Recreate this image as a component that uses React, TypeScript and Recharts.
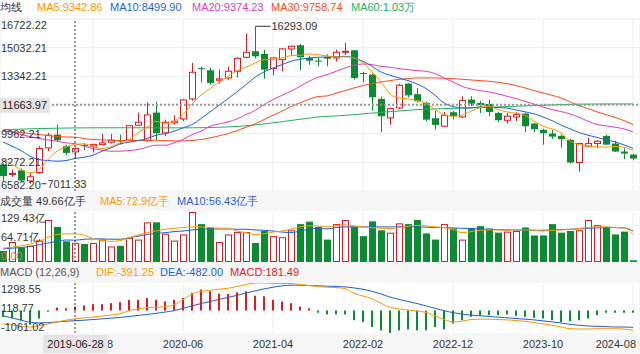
import { ComposedChart, Bar, Line, XAxis, YAxis, CartesianGrid, ReferenceLine } from 'recharts';

const MONTHS = [
  '2018-10', '2018-11', '2018-12',
  '2019-01', '2019-02', '2019-03', '2019-04', '2019-05', '2019-06', '2019-07', '2019-08', '2019-09', '2019-10', '2019-11', '2019-12',
  '2020-01', '2020-02', '2020-03', '2020-04', '2020-05', '2020-06', '2020-07', '2020-08', '2020-09', '2020-10', '2020-11', '2020-12',
  '2021-01', '2021-02', '2021-03', '2021-04', '2021-05', '2021-06', '2021-07', '2021-08', '2021-09', '2021-10', '2021-11', '2021-12',
  '2022-01', '2022-02', '2022-03', '2022-04', '2022-05', '2022-06', '2022-07', '2022-08', '2022-09', '2022-10', '2022-11', '2022-12',
  '2023-01', '2023-02', '2023-03', '2023-04', '2023-05', '2023-06', '2023-07', '2023-08', '2023-09', '2023-10', '2023-11', '2023-12',
  '2024-01', '2024-02', '2024-03', '2024-04', '2024-05', '2024-06', '2024-07', '2024-08',
];

const OPEN = [
  8140, 7580, 7800, 7180, 7670, 9124, 9907, 9224, 8889, 9300,
  9224, 9317, 9459, 9560, 9577, 10458, 9577, 11205, 10007, 10597,
  10832, 12010, 13820, 13700, 13110, 13246, 13642, 14466, 14819, 14660,
  13795, 14325, 14955, 15173, 14425, 14270, 14485, 14425, 14760, 14878,
  13541, 13441, 12010, 10890, 11480, 12912, 12288, 11774, 10875, 10402,
  11226, 10949, 11969, 11774, 11715, 11185, 10755, 10949, 11144, 10556,
  10185, 9967, 9832, 9596, 8259, 9224, 9377, 9832, 9379, 8908,
  8729,
];
const CLOSE = [
  7457, 7620, 7200, 7420, 9084, 9872, 9577, 8829, 9083, 9260,
  9317, 9418, 9577, 9500, 10436, 10635, 11069, 9990, 10635, 10697,
  11951, 13582, 13760, 12952, 13187, 13642, 14407, 14760, 14524, 13736,
  14425, 14955, 15114, 14466, 14266, 14215, 14385, 14760, 14819, 13246,
  13481, 12109, 10991, 11439, 12817, 12223, 11876, 10791, 10480, 11049,
  10991, 11910, 11733, 11638, 11244, 10755, 10991, 11085, 10402, 10226,
  9990, 9791, 9636, 8259, 9379, 9377, 9518, 9317, 8908, 8790,
  8494,
];
const HIGH = [
  8200, 7846, 7900, 7651, 9224, 10008, 10496, 9300, 9150, 9420,
  9380, 9948, 9932, 9900, 10480, 11204, 11816, 11835, 10793, 11040,
  12010, 14130, 13900, 13840, 13736, 13900, 14470, 15857, 16293.09, 14913,
  14480, 15000, 15160, 15250, 14550, 14425, 14640, 14913, 15308, 14900,
  13600, 13500, 12150, 11500, 12900, 12950, 12650, 11850, 11300, 11250,
  11300, 12169, 12169, 11900, 11969, 11250, 11185, 11230, 11200, 10600,
  10250, 10180, 9900, 9650, 9420, 9712, 9600, 9900, 9550, 9100,
  8780,
];
const LOW = [
  7162, 7398, 7100, 7011.33, 7600, 8930, 9520, 8694, 8550, 8990,
  8849, 9280, 9380, 9320, 9500, 10420, 9479, 9580, 9811, 10500,
  10700, 11900, 12994, 12853, 12912, 13150, 13300, 14400, 14400, 13206,
  13405, 13642, 14619, 13700, 14030, 13934, 13935, 14220, 14600, 13146,
  12994, 11321, 10048, 10496, 11400, 12100, 11800, 10700, 10201, 10350,
  10800, 10880, 11600, 11185, 10991, 10650, 10560, 10700, 10048, 10050,
  9317, 9650, 9143, 8200, 7729, 9150, 9100, 9300, 8880, 8459,
  8400,
];

const MA5 = [
  8437, 8142, 7848, 7652, 7848, 8437, 8928, 9163, 9342.86, 9360,
  9222, 9085, 9203, 9419, 9615, 10008, 10341, 10695, 10538, 10695,
  11087, 11716, 12226, 12619, 13011, 13345, 13679, 13875, 14131, 14327,
  14347, 14425, 14562, 14582, 14661, 14621, 14543, 14484, 14484, 14425,
  14130, 13600, 13011, 12305, 12069, 12010, 11912, 11755, 11382, 11087,
  10989, 11048, 11284, 11500, 11578, 11382, 11245, 11166, 11048, 10695,
  10400, 10243, 10008, 9517, 9320, 9222, 9183, 9163, 9203, 9163,
  8987,
];
const MA10 = [
  9478, 9222, 8967, 8633, 8437, 8378, 8339, 8378, 8499.9, 8574,
  8692, 8928, 9124, 9360, 9458, 9556, 9674, 9870, 9968, 10106,
  10302, 10498, 10852, 11244, 11637, 12030, 12422, 12854, 13286, 13600,
  13836, 14032, 14229, 14347, 14425, 14464, 14484, 14504, 14523, 14425,
  14229, 13934, 13600, 13404, 13247, 13090, 12894, 12619, 12226, 11775,
  11559, 11480, 11480, 11540, 11520, 11500, 11470, 11360, 11250, 11130,
  10950, 10730, 10470, 10250, 10030, 9870, 9740, 9600, 9480, 9300,
  9100,
];
const MA20 = [
  10145, 10067, 9909, 9792, 9674, 9595, 9517, 9419, 9374.23, 9222,
  9085, 8987, 8928, 8928, 8967, 9026, 9163, 9281, 9281, 9419,
  9615, 9909, 10106, 10400, 10538, 10655, 10832, 11087, 11323, 11677,
  11971, 12226, 12462, 12756, 13051, 13286, 13443, 13640, 13836, 13993,
  14072, 14032, 13934, 13875, 13797, 13738, 13679, 13640, 13502, 13247,
  13011, 12756, 12599, 12501, 12422, 12305, 12167, 12030, 11873, 11716,
  11539, 11382, 11264, 11127, 10930, 10695, 10498, 10420, 10341, 10243,
  10067,
];
const MA30 = [
  10106, 10067, 10027, 9968, 9909, 9850, 9792, 9765, 9758.74, 9674,
  9615, 9596, 9576, 9560, 9556, 9556, 9556, 9576, 9556, 9536,
  9536, 9556, 9615, 9713, 9831, 9968, 10145, 10341, 10538, 10793,
  11048, 11284, 11558, 11775, 11991, 12147, 12187, 12344, 12501, 12658,
  12796, 12913, 13011, 13090, 13168, 13208, 13247, 13247, 13247, 13227,
  13208, 13168, 13129, 13090, 13051, 12992, 12913, 12796, 12658, 12501,
  12364, 12226, 12069, 11834, 11617, 11441, 11245, 11087, 10930, 10734,
  10498,
];
const MA60 = [
  10200, 10215, 10230, 10245, 10260, 10272, 10284, 10294, 10300, 10305,
  10308, 10310, 10310, 10310, 10310, 10310, 10308, 10306, 10305, 10305,
  10306, 10310, 10315, 10325, 10340, 10360, 10390, 10430, 10480, 10540,
  10600, 10670, 10740, 10810, 10880, 10950, 10980, 11010, 11040, 11085,
  11130, 11175, 11220, 11260, 11300, 11340, 11380, 11400, 11420, 11440,
  11455, 11470, 11485, 11500, 11520, 11540, 11560, 11580, 11600, 11620,
  11640, 11655, 11676, 11690, 11700, 11708, 11712, 11715, 11716, 11716,
  11716,
];

// 成交量 (亿手)
const VOL = [
  28.6, 51.8, 37.4, 42.0, 55.4, 108.8, 90.9, 53.5, 49.66, 46.5,
  49.2, 58.0, 40.1, 42.0, 62.6, 58.0, 102.7, 102.7, 73.3, 55.4,
  71.4, 129.43, 98.1, 89.3, 51.8, 71.4, 77.5, 77.5, 49.2, 80.2,
  66.9, 64.2, 82.1, 98.1, 104.3, 90.9, 58.0, 98.1, 108.8, 90.9,
  66.9, 105.2, 82.1, 75.9, 100.0, 98.1, 108.8, 74.1, 58.0, 98.1,
  86.6, 58.0, 86.6, 92.8, 86.6, 75.9, 78.6, 80.2, 89.3, 68.7,
  68.7, 98.1, 75.9, 80.2, 82.1, 108.8, 95.5, 90.9, 71.4, 78.6,
  4.5,
];
const VOL_MA5 = [
  35.8, 38.5, 42.0, 46.0, 53.5, 64.0, 71.3, 73.0, 72.9, 69.6,
  60.7, 55.4, 53.5, 55.4, 62.5, 69.6, 75.9, 80.2, 84.7, 87.3,
  89.1, 90.9, 90.9, 89.1, 87.3, 87.3, 80.2, 75.9, 71.3, 73.1,
  77.5, 80.2, 84.7, 90.9, 93.6, 93.6, 90.9, 93.6, 96.3, 93.6,
  90.9, 89.1, 87.3, 86.6, 89.1, 92.7, 94.5, 93.6, 90.9, 89.1,
  84.7, 75.9, 78.6, 82.1, 83.0, 83.0, 82.1, 83.0, 83.0, 82.1,
  80.2, 82.1, 83.0, 83.9, 86.6, 89.1, 90.9, 90.9, 89.1, 88.2,
  71.3,
];
const VOL_MA10 = [
  33.9, 35.8, 37.4, 40.1, 44.6, 49.0, 53.5, 57.0, 56.43, 58.9,
  59.8, 59.8, 58.9, 58.9, 62.5, 66.9, 71.3, 74.0, 75.9, 78.6,
  80.2, 83.0, 84.7, 85.6, 85.6, 85.6, 84.7, 84.7, 83.0, 82.1,
  80.2, 77.5, 75.9, 80.2, 84.7, 87.3, 85.6, 89.1, 90.9, 90.9,
  90.9, 90.9, 90.9, 90.9, 90.9, 90.9, 90.9, 90.0, 89.1, 89.1,
  88.2, 87.3, 86.6, 85.6, 84.7, 83.9, 83.0, 83.0, 82.1, 82.1,
  82.1, 83.0, 83.9, 84.7, 85.6, 87.3, 88.2, 89.1, 89.1, 88.2,
  80.2,
];

// MACD (12,26,9)
const DIF = [
  -634, -682, -730, -778, -714, -634, -538, -457, -391.25, -345,
  -313, -265, -217, -152, -8, 72, 136, 152, 185, 265,
  506, 778, 907, 955, 1003, 1051, 1132, 1228, 1292, 1298.55,
  1276, 1276, 1276, 1228, 1180, 1132, 1099, 1083, 1035, 811,
  682, 554, 345, 152, 72, 24, -24, -88, -249, -425,
  -538, -506, -425, -409, -409, -425, -441, -473, -506, -570,
  -634, -698, -778, -859, -875, -875, -859, -859, -859, -875,
  -939,
];
const DEA = [
  -249, -345, -457, -554, -586, -570, -538, -506, -482.0, -457,
  -425, -393, -361, -329, -281, -233, -185, -136, -72, -8,
  104, 217, 329, 425, 522, 618, 714, 827, 923, 1019,
  1099, 1164, 1196, 1196, 1180, 1164, 1148, 1132, 1115, 1067,
  1003, 907, 778, 634, 522, 425, 329, 217, 104, -8,
  -104, -169, -217, -249, -281, -313, -345, -377, -409, -441,
  -490, -538, -586, -650, -698, -730, -746, -762, -778, -778,
  -794,
];
const HIST = [
  -297, -377, -457, -666, -377, -56, 136, 104, 181.49, 233,
  297, 297, 345, 393, 506, 506, 586, 506, 425, 506,
  586, 827, 987, 907, 794, 778, 859, 907, 698, 666,
  506, 425, 345, 185, 104, -104, -185, -185, -185, -457,
  -538, -778, -939, -1061.02, -939, -891, -939, -939, -778, -891,
  -618, -457, -297, -249, -217, -217, -185, -249, -297, -345,
  -377, -457, -538, -506, -457, -377, -217, -104, -104, -104,
  -104,
];

const PRICE_TICKS = [6582.2, 8272.21, 9962.21, 11652.21, 13342.21, 15032.21, 16722.22];
const VOL_TICKS = [0, 64.71, 129.43];
const MACD_TICKS = [-1061.02, 118.77, 1298.55];
const DATE_TICKS = [10, 20, 30, 40, 50, 60, 70];

const CROSS_IDX = 8;
const CROSS_DATE = '2019-06-28';
const CROSS_PRICE = 11663.97;

const UP = '#e3171d';
const DOWN = '#0c8c30';
const C_MA5 = '#ff9600';
const C_MA10 = '#1d5fd6';
const C_MA20 = '#e33cbc';
const C_MA30 = '#ff4a1c';
const C_MA60 = '#20b35c';
const GRID = '#ececec';
const BAND = '#f6f6f6';
const TEXT = '#333';
const LABEL_BG = '#e4e4e4';
const FONT = '"Liberation Sans", Arial, sans-serif';
const X_DOMAIN: [number, number] = [-1 / 3, 70 + 7 / 9];

const rows = MONTHS.map((month, i) => ({
  i,
  month,
  open: OPEN[i],
  high: HIGH[i],
  low: LOW[i],
  close: CLOSE[i],
  range: [LOW[i], HIGH[i]],
  ma5: MA5[i],
  ma10: MA10[i],
  ma20: MA20[i],
  ma30: MA30[i],
  ma60: MA60[i],
  vol: VOL[i],
  volMa5: VOL_MA5[i],
  volMa10: VOL_MA10[i],
  dif: DIF[i],
  dea: DEA[i],
  hist: HIST[i],
}));

const HIGH_IDX = HIGH.indexOf(Math.max(...HIGH));
const LOW_IDX = LOW.indexOf(Math.min(...LOW));

function Candle(props: any) {
  const { x, y, width, height, payload } = props;
  if (x == null || y == null) return <g />;
  const top = Math.min(y, y + height);
  const span = Math.abs(height);
  const { open, close, high, low, i } = payload;
  const toY = (v: number) => top + (span * (high - v)) / (high - low || 1);
  const cx = Math.round(x + width / 2) + 0.5;
  const up = close >= open;
  const color = up ? UP : DOWN;
  const bTop = toY(Math.max(open, close));
  const bh = Math.max(toY(Math.min(open, close)) - bTop, 1);
  return (
    <g>
      {up ? (
        <>
          <line x1={cx} x2={cx} y1={top} y2={bTop} stroke={color} />
          <line x1={cx} x2={cx} y1={bTop + bh} y2={top + span} stroke={color} />
          <rect x={cx - 3} y={bTop} width={6} height={bh} fill="#fff" stroke={color} />
        </>
      ) : (
        <>
          <line x1={cx} x2={cx} y1={top} y2={top + span} stroke={color} />
          <rect x={cx - 3.5} y={bTop} width={7} height={bh} fill={color} />
        </>
      )}
      {i === HIGH_IDX && (
        <g>
          <line x1={cx} x2={cx + 15} y1={top} y2={top} stroke="#333" />
          <text x={cx + 16} y={top} fontSize={11} fill={TEXT} dominantBaseline="central" fontFamily={FONT}>
            {high.toFixed(2)}
          </text>
        </g>
      )}
      {i === LOW_IDX && (
        <g>
          <line x1={cx + 11} x2={cx + 16} y1={top + span} y2={top + span} stroke="#333" />
          <text x={cx + 17} y={top + span} fontSize={11} fill={TEXT} dominantBaseline="central" fontFamily={FONT}>
            {low.toFixed(2)}
          </text>
        </g>
      )}
    </g>
  );
}

function VolBar(props: any) {
  const { x, y, width, height, payload } = props;
  if (x == null || y == null) return <g />;
  const top = Math.min(y, y + height);
  const h = Math.abs(height);
  const left = Math.round(x);
  if (payload.close >= payload.open) {
    return <rect x={left + 0.5} y={top + 0.5} width={width - 1} height={Math.max(h - 1, 0)} fill="#fff" stroke={UP} />;
  }
  return <rect x={left} y={top} width={width} height={h} fill={DOWN} />;
}

function MacdBar(props: any) {
  const { x, y, width, height, payload } = props;
  if (x == null || y == null) return <g />;
  const top = Math.min(y, y + height);
  const h = Math.max(Math.abs(height), 1);
  const cx = Math.round(x + width / 2);
  return <rect x={cx - 1} y={top} width={2} height={h} fill={payload.hist >= 0 ? UP : DOWN} />;
}

function makeTick(ticks: number[], fmt: (v: number) => string, skip?: number) {
  const lo = Math.min(...ticks);
  const hi = Math.max(...ticks);
  return (p: any) => {
    const v = p.payload.value;
    if (skip !== undefined && v === skip) return <g />;
    const shift = v === hi ? 6 : v === lo ? -6 : 0;
    return (
      <text x={1} y={p.y + shift} fontSize={11} fill={TEXT} dominantBaseline="central" fontFamily={FONT}>
        {fmt(v)}
      </text>
    );
  };
}

const priceTick = makeTick(PRICE_TICKS, (v) => v.toFixed(2), 11652.21);
// the zero label of the volume axis sits over the bars, so it is an overlay below
const volTick = makeTick(VOL_TICKS, (v) => `${v.toFixed(2)}亿`, 0);
const macdTick = makeTick(MACD_TICKS, (v) => v.toFixed(2));

const dateTick = (p: any) => {
  const i = p.payload.value;
  const last = i === MONTHS.length - 1;
  return (
    <text
      x={p.x + (last ? 3 : 0)}
      y={p.y + 11}
      fontSize={11}
      fill={TEXT}
      textAnchor={last ? 'end' : 'middle'}
      dominantBaseline="central"
      fontFamily={FONT}
    >
      {MONTHS[i]}
    </text>
  );
};

const priceCrossLabel = (p: any) => {
  const { x, y } = p.viewBox;
  return (
    <g>
      <rect x={x} y={y - 7} width={50} height={15} fill={LABEL_BG} />
      <text x={x + 2} y={y + 0.5} fontSize={11} fill="#222" dominantBaseline="central" fontFamily={FONT}>
        {CROSS_PRICE.toFixed(2)}
      </text>
    </g>
  );
};

const fmtVol = (v: number) => `${+v.toFixed(2)}亿手`;

const legendStyle = (left: number, top: number, color: string) => ({
  position: 'absolute' as const,
  left,
  top,
  color,
  fontSize: 11,
  lineHeight: '14px',
  whiteSpace: 'nowrap' as const,
});

const crossLine = <ReferenceLine x={CROSS_IDX} stroke="#333" strokeDasharray="2 2" />;

export default function App() {
  const r = rows[CROSS_IDX];
  return (
    <div style={{ position: 'relative', width: 640, height: 354, background: BAND, fontFamily: FONT, overflow: 'hidden' }}>
      <style>{'body{margin:0}'}</style>
      <div style={{ position: 'absolute', left: 0, top: 0, width: 640, height: 192, background: '#fff' }} />
      <div style={{ position: 'absolute', left: 0, top: 211, width: 640, height: 52, background: '#fff' }} />
      <div style={{ position: 'absolute', left: 0, top: 283, width: 640, height: 50, background: '#fff' }} />

      <div style={{ position: 'absolute', left: 0, top: 0 }}>
        <ComposedChart width={640} height={192} data={rows} margin={{ top: 19, right: 0, bottom: 1, left: 0 }}>
          <CartesianGrid stroke={GRID} />
          <XAxis type="number" dataKey="i" domain={X_DOMAIN} ticks={DATE_TICKS} hide allowDataOverflow />
          <Bar dataKey="range" barSize={7} shape={Candle} isAnimationActive={false} />
          <Line type="monotone" dataKey="ma60" stroke={C_MA60} dot={false} strokeWidth={1} isAnimationActive={false} />
          <Line type="monotone" dataKey="ma30" stroke={C_MA30} dot={false} strokeWidth={1} isAnimationActive={false} />
          <Line type="monotone" dataKey="ma20" stroke={C_MA20} dot={false} strokeWidth={1} isAnimationActive={false} />
          <Line type="monotone" dataKey="ma10" stroke={C_MA10} dot={false} strokeWidth={1} isAnimationActive={false} />
          <Line type="monotone" dataKey="ma5" stroke={C_MA5} dot={false} strokeWidth={1} isAnimationActive={false} />
          {crossLine}
          <ReferenceLine y={CROSS_PRICE} stroke="#999" strokeWidth={2} strokeDasharray="2 2" label={priceCrossLabel} />
          <YAxis
            domain={[PRICE_TICKS[0], PRICE_TICKS[PRICE_TICKS.length - 1]]}
            ticks={PRICE_TICKS}
            interval={0}
            allowDataOverflow
            mirror
            axisLine={false}
            tickLine={false}
            tick={priceTick}
          />
        </ComposedChart>
      </div>

      <div style={{ position: 'absolute', left: 0, top: 192 }}>
        <ComposedChart width={640} height={71} data={rows} margin={{ top: 20, right: 0, bottom: 1, left: 0 }}>
          <CartesianGrid stroke={GRID} horizontal={false} />
          <XAxis type="number" dataKey="i" domain={X_DOMAIN} ticks={DATE_TICKS} hide allowDataOverflow />
          <Bar dataKey="vol" barSize={7} shape={VolBar} isAnimationActive={false} />
          <Line type="monotone" dataKey="volMa10" stroke={C_MA10} dot={false} strokeWidth={1} isAnimationActive={false} />
          <Line type="monotone" dataKey="volMa5" stroke={C_MA5} dot={false} strokeWidth={1} isAnimationActive={false} />
          {crossLine}
          <YAxis
            domain={[0, VOL_TICKS[2]]}
            ticks={VOL_TICKS}
            interval={0}
            allowDataOverflow
            mirror
            axisLine={false}
            tickLine={false}
            tick={volTick}
          />
        </ComposedChart>
      </div>

      <div style={{ position: 'absolute', left: 0, top: 263 }}>
        <ComposedChart width={640} height={91} data={rows} margin={{ top: 20, right: 0, bottom: 0, left: 0 }}>
          <CartesianGrid stroke={GRID} horizontal={false} />
          <Bar dataKey="hist" barSize={2} shape={MacdBar} isAnimationActive={false} />
          <Line type="monotone" dataKey="dea" stroke={C_MA10} dot={false} strokeWidth={1} isAnimationActive={false} />
          <Line type="monotone" dataKey="dif" stroke={C_MA5} dot={false} strokeWidth={1} isAnimationActive={false} />
          <YAxis
            domain={[MACD_TICKS[0], MACD_TICKS[2]]}
            ticks={MACD_TICKS}
            interval={0}
            allowDataOverflow
            mirror
            axisLine={false}
            tickLine={false}
            tick={macdTick}
          />
          <XAxis
            type="number"
            dataKey="i"
            domain={X_DOMAIN}
            ticks={DATE_TICKS}
            interval={0}
            allowDataOverflow
            height={21}
            axisLine={false}
            tickLine={false}
            tickSize={0}
            tickMargin={0}
            tick={dateTick}
          />
          {crossLine}
        </ComposedChart>
      </div>

      <span style={{ ...legendStyle(1, 249, '#c77'), lineHeight: '14px' }}>{VOL_TICKS[0].toFixed(2)}</span>

      <div
        style={{
          position: 'absolute',
          left: 43,
          top: 335,
          width: 65,
          height: 18,
          lineHeight: '18px',
          background: LABEL_BG,
          color: '#222',
          fontSize: 11,
          textAlign: 'center',
        }}
      >
        {CROSS_DATE}
      </div>

      <span style={legendStyle(0, 0, TEXT)}>均线</span>
      <span style={legendStyle(37, 0, C_MA5)}>MA5:{r.ma5.toFixed(2)}</span>
      <span style={legendStyle(110, 0, C_MA10)}>MA10:{r.ma10.toFixed(2)}</span>
      <span style={legendStyle(192, 0, C_MA20)}>MA20:{r.ma20.toFixed(2)}</span>
      <span style={legendStyle(271, 0, C_MA30)}>MA30:{r.ma30.toFixed(2)}</span>
      <span style={legendStyle(351, 0, C_MA60)}>MA60:{(r.ma60 / 10000).toFixed(2)}万</span>

      <span style={legendStyle(0, 194, TEXT)}>成交量 {fmtVol(r.vol)}</span>
      <span style={legendStyle(100, 194, C_MA5)}>MA5:{fmtVol(r.volMa5)}</span>
      <span style={legendStyle(177, 194, C_MA10)}>MA10:{fmtVol(r.volMa10)}</span>

      <span style={legendStyle(0, 265, '#555')}>MACD (12,26,9)</span>
      <span style={legendStyle(96, 265, C_MA5)}>DIF:{r.dif.toFixed(2)}</span>
      <span style={legendStyle(160, 265, C_MA10)}>DEA:{r.dea.toFixed(2)}</span>
      <span style={legendStyle(230, 265, UP)}>MACD:{r.hist.toFixed(2)}</span>
    </div>
  );
}
